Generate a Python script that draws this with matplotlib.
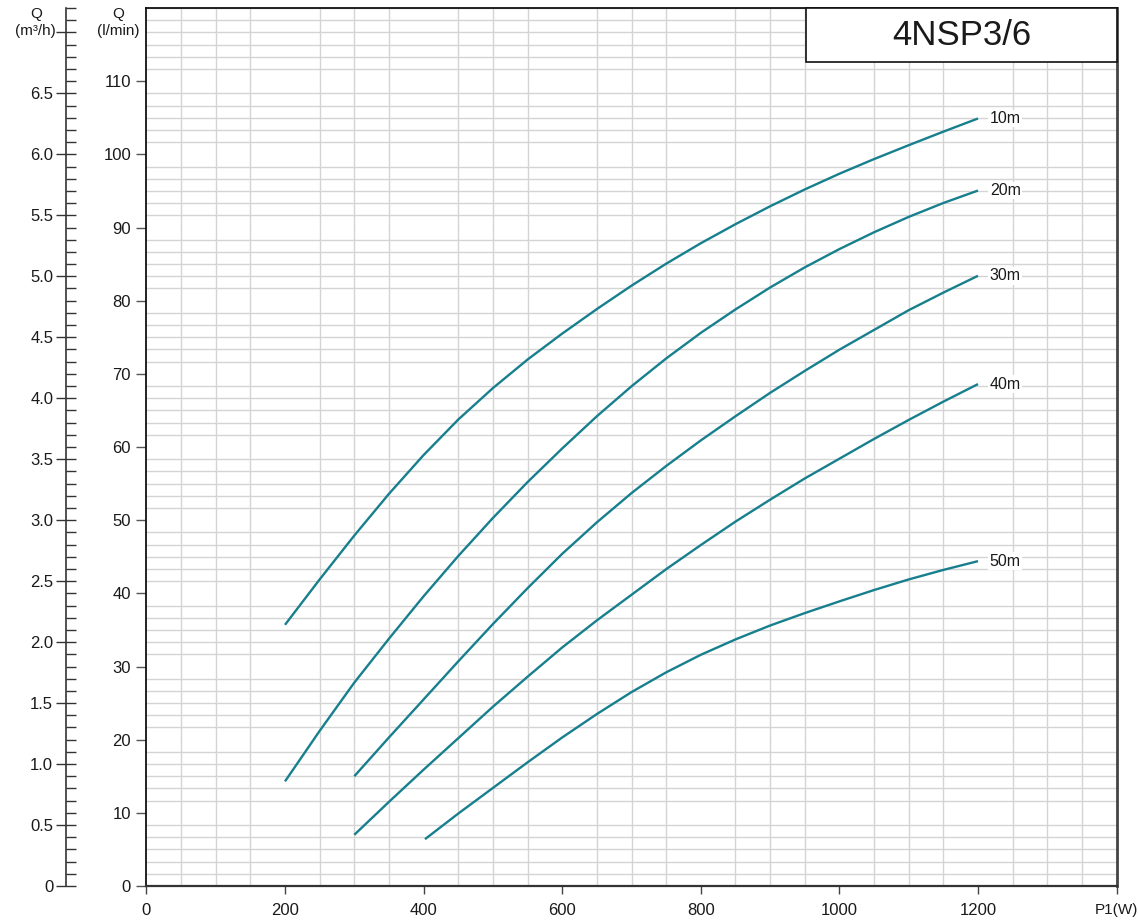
import matplotlib
matplotlib.use("Agg")
import matplotlib.pyplot as plt
from matplotlib.patches import Rectangle
from matplotlib.ticker import MultipleLocator, FixedLocator

# ---- data ----
power_10 = [200, 250, 300, 350, 400, 450, 500, 550, 600, 650, 700, 750, 800, 850, 900, 950, 1000, 1050, 1100, 1150, 1200]
q_10 = [35.7, 41.9, 47.9, 53.6, 58.9, 63.75, 68.05, 71.95, 75.5, 78.85, 82.05, 85.05, 87.85, 90.45, 92.9, 95.2, 97.35, 99.35, 101.25, 103.1, 104.9]

power_20 = [200, 250, 300, 350, 400, 450, 500, 550, 600, 650, 700, 750, 800, 850, 900, 950, 1000, 1050, 1100, 1150, 1200]
q_20 = [14.3, 21.2, 27.8, 33.8, 39.6, 45.1, 50.3, 55.2, 59.8, 64.2, 68.3, 72.1, 75.6, 78.8, 81.8, 84.55, 87.05, 89.35, 91.45, 93.35, 95.05]

power_30 = [300, 350, 400, 450, 500, 550, 600, 650, 700, 750, 800, 850, 900, 950, 1000, 1050, 1100, 1150, 1200]
q_30 = [15.0, 20.3, 25.5, 30.7, 35.8, 40.7, 45.4, 49.7, 53.7, 57.4, 60.9, 64.2, 67.4, 70.4, 73.3, 76.0, 78.7, 81.1, 83.4]

power_40 = [300, 350, 400, 450, 500, 550, 600, 650, 700, 750, 800, 850, 900, 950, 1000, 1050, 1100, 1150, 1200]
q_40 = [7.0, 11.5, 15.9, 20.2, 24.5, 28.6, 32.6, 36.3, 39.8, 43.3, 46.6, 49.8, 52.8, 55.7, 58.4, 61.1, 63.7, 66.2, 68.6]

power_50 = [402, 450, 500, 550, 600, 650, 700, 750, 800, 850, 900, 950, 1000, 1050, 1100, 1150, 1200]
q_50 = [6.4, 9.9, 13.4, 16.9, 20.3, 23.5, 26.5, 29.2, 31.6, 33.7, 35.6, 37.3, 38.9, 40.45, 41.9, 43.2, 44.4]

series = [
    ("10m", power_10, q_10),
    ("20m", power_20, q_20),
    ("30m", power_30, q_30),
    ("40m", power_40, q_40),
    ("50m", power_50, q_50),
]

x_ticks = [0, 200, 400, 600, 800, 1000, 1200, 1400]
x_labels = ["0", "200", "400", "600", "800", "1000", "1200", "P1(W)"]
y_ticks = list(range(0, 120, 10))
m3h_ticks = [0, 0.5, 1.0, 1.5, 2.0, 2.5, 3.0, 3.5, 4.0, 4.5, 5.0, 5.5, 6.0, 6.5, 7.0]
m3h_labels = ["0", "0.5", "1.0", "1.5", "2.0", "2.5", "3.0", "3.5", "4.0",
              "4.5", "5.0", "5.5", "6.0", "6.5", ""]
title = "4NSP3/6"

CURVE = "#177f8d"
GRID = "#d4d4d4"
TXT = "#1a1a1a"

plt.rcParams["font.family"] = ["Liberation Sans", "DejaVu Sans"]

W, H = 1138, 922
fig = plt.figure(figsize=(W / 100, H / 100), dpi=100)
fig.patch.set_facecolor("white")

left_px, right_px, bottom_px, top_px = 146.4, 1116.6, 886, 8
ax = fig.add_axes([left_px / W, 1 - bottom_px / H,
                   (right_px - left_px) / W, (bottom_px - top_px) / H])
ax.set_xlim(0, 1400)
ax.set_ylim(0, 120)

# grid: every 50 W and every 0.1 m3/h (= 1.667 l/min)
ax.xaxis.set_minor_locator(MultipleLocator(50))
ax.yaxis.set_minor_locator(MultipleLocator(100 / 60))
ax.grid(True, which="minor", color=GRID, linewidth=1.0)
ax.grid(False, which="major")
ax.set_axisbelow(True)
ax.tick_params(which="minor", length=0)

ax.set_xticks(x_ticks)
ax.set_xticklabels(x_labels, fontsize=12, color=TXT)
ax.get_xticklabels()[-1].set_fontsize(11)
ax.set_yticks(y_ticks)
ax.set_yticklabels([str(v) for v in y_ticks], fontsize=12, color=TXT)
ax.tick_params(axis="x", which="major", length=6, width=1, color="#444444", pad=6)
ax.tick_params(axis="y", which="major", length=7, width=1, color="#555555", pad=4)

for name in ("left", "top"):
    ax.spines[name].set_color("#111111")
    ax.spines[name].set_linewidth(1.3)
ax.spines["bottom"].set_color("#333333")
ax.spines["bottom"].set_linewidth(1.6)
ax.spines["right"].set_color("#444444")
ax.spines["right"].set_linewidth(2.0)

for label, xs, ys in series:
    ax.plot(xs, ys, color=CURVE, linewidth=1.7, solid_capstyle="butt",
            solid_joinstyle="round", zorder=3)
    ax.text(xs[-1] + 17, ys[-1], label, fontsize=11.5, color=TXT, va="center", ha="left",
            bbox=dict(facecolor="white", edgecolor="none", pad=1.0), zorder=4)

# model name box
ax.add_patch(Rectangle((0.68, 0.9385), 0.32, 0.0615, transform=ax.transAxes,
                       facecolor="white", edgecolor="#111111", linewidth=1.2, zorder=5,
                       clip_on=False))
ax.text(0.84, 0.969, title, transform=ax.transAxes, fontsize=25, color=TXT,
        ha="center", va="center", zorder=6)

# secondary m3/h scale
ax2 = fig.add_axes([65.7 / W, 1 - bottom_px / H, 0.0005, (bottom_px - top_px) / H])
ax2.set_ylim(0, 7.2)
ax2.set_xticks([])
for name in ("right", "top", "bottom"):
    ax2.spines[name].set_visible(False)
ax2.spines["left"].set_color("#333333")
ax2.spines["left"].set_linewidth(1.2)
ax2.patch.set_alpha(0)
ax2.yaxis.set_major_locator(FixedLocator(m3h_ticks))
ax2.set_yticklabels(m3h_labels, fontsize=12, color=TXT)
ax2.yaxis.set_minor_locator(MultipleLocator(0.1))
ax2.tick_params(axis="y", which="major", direction="inout", length=14, width=1,
                color="#333333", pad=2)
ax2.tick_params(axis="y", which="minor", direction="in", length=7, width=1,
                color="#333333")

# axis titles
fig.text(36 / W, 1 - 14 / H, "Q", fontsize=11, color=TXT, ha="center", va="center")
fig.text(35 / W, 1 - 31 / H, "(m³/h)", fontsize=11, color=TXT, ha="center", va="center")
fig.text(118 / W, 1 - 14 / H, "Q", fontsize=11, color=TXT, ha="center", va="center")
fig.text(118 / W, 1 - 31 / H, "(l/min)", fontsize=11, color=TXT, ha="center", va="center")

fig.savefig("out.png", dpi=100, facecolor="white")
